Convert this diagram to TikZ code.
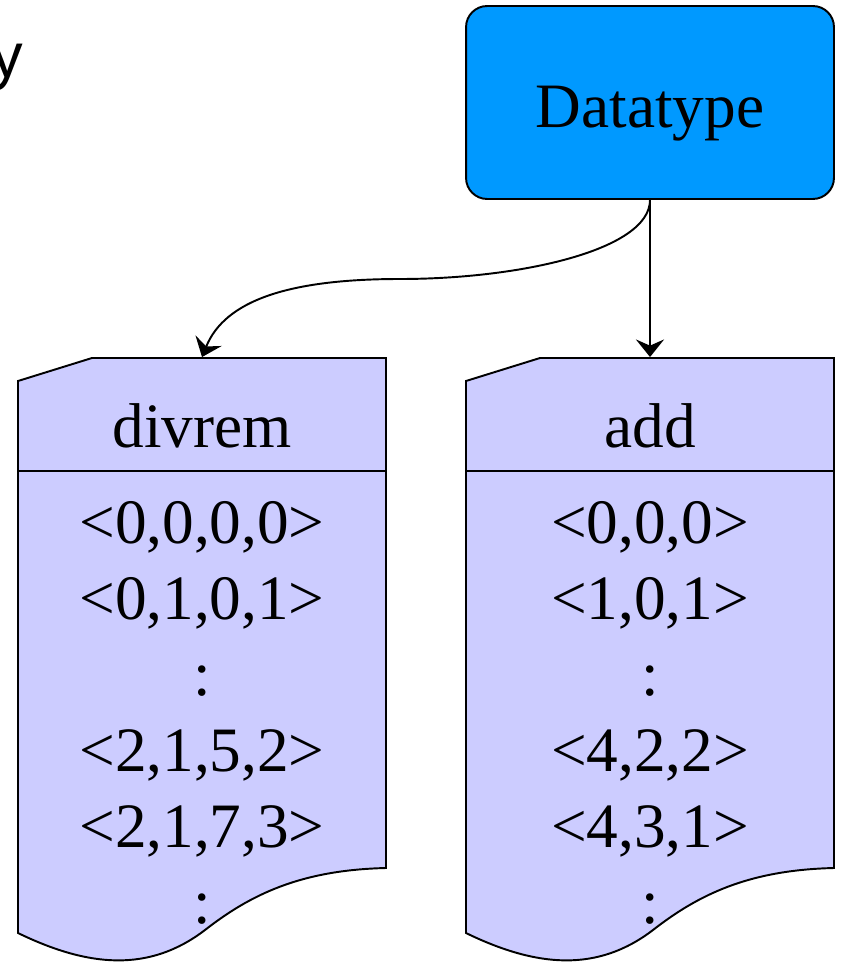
\documentclass[tikz,border=0pt]{standalone}
\usepackage{fontspec}
\setmainfont{Liberation Serif}
\newfontfamily\sansfont{Liberation Sans}
\usetikzlibrary{arrows.meta, positioning}

\definecolor{typeblue}{HTML}{0099FF}
\definecolor{tablefill}{HTML}{CCCCFF}

\begin{document}
\begin{tikzpicture}[x=0.02cm, y=-0.02cm, line width=1.1pt,
        >={Stealth[length=10pt, width=16pt, inset=3.5pt]},
        big/.style={font=\fontsize{36}{40}\selectfont, inner sep=0pt},
        typebox/.style={big, draw, fill=typeblue, rounded corners=12pt,
            minimum width=7.36cm, minimum height=3.86cm,
            text height=34pt, text depth=6pt},
        tablehead/.style={big, minimum width=7.36cm, minimum height=2.26cm,
            text height=38pt, text depth=0pt},
        row/.style={big, anchor=base}]
        \useasboundingbox (0,0) rectangle (840,963);

        % table outlines
        \foreach \dx in {0,448} {
            \begin{scope}[xshift=\dx*0.02cm]
                \draw[fill=tablefill] (18,381) -- (92,358) -- (386,358) -- (386,868)
                    .. controls (300,870) and (250,895) .. (205,930)
                    .. controls (150,972) and (90,968) .. (18,933) -- cycle;
                \draw (18,471) -- (386,471);
            \end{scope}
        }

        \node[anchor=base east, inner sep=0pt, font=\sansfont\fontsize{36}{40}\selectfont] (cut) at (24,78) {y};

        \node[typebox] (dt) at (650,102.5) {Datatype};

        \node[tablehead] (divrem) at (202,414.5) {divrem};
        \node[tablehead] (add) at (650,414.5) {add};

        \node[row] (dr1) at (202,543) {<0,0,0,0>};
        \node[row] (dr2) at (202,619) {<0,1,0,1>};
        \node[row] (dr3) at (202,695) {:};
        \node[row] (dr4) at (202,771) {<2,1,5,2>};
        \node[row] (dr5) at (202,847) {<2,1,7,3>};
        \node[row] (dr6) at (202,923) {:};

        \node[row] (ad1) at (650,543) {<0,0,0>};
        \node[row] (ad2) at (650,619) {<1,0,1>};
        \node[row] (ad3) at (650,695) {:};
        \node[row] (ad4) at (650,771) {<4,2,2>};
        \node[row] (ad5) at (650,847) {<4,3,1>};
        \node[row] (ad6) at (650,923) {:};

        \path[->]
        (dt.south) edge (add.north);
        \draw[->] (dt.south) .. controls (650,250) and (520,279) .. (400,279)
            .. controls (290,279) and (225,300) .. (divrem.north);

    \end{tikzpicture}
\end{document}
